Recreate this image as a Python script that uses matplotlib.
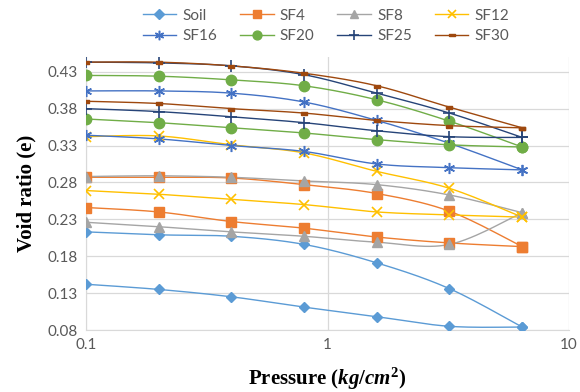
import numpy as np
import matplotlib
matplotlib.use("Agg")
import matplotlib.pyplot as plt
from matplotlib.lines import Line2D

pressure = [0.1, 0.2, 0.4, 0.8, 1.6, 3.2, 6.4]
series_names = ["Soil", "SF4", "SF8", "SF12", "SF16", "SF20", "SF25", "SF30"]

soil_load = [0.213, 0.209, 0.207, 0.196, 0.171, 0.136, 0.084]
soil_unload = [0.142, 0.135, 0.125, 0.111, 0.098, 0.085, 0.084]
sf4_load = [0.287, 0.287, 0.286, 0.277, 0.265, 0.241, 0.193]
sf4_unload = [0.246, 0.240, 0.227, 0.218, 0.206, 0.198, 0.193]
sf8_load = [0.288, 0.289, 0.287, 0.282, 0.277, 0.263, 0.239]
sf8_unload = [0.226, 0.220, 0.213, 0.207, 0.199, 0.196, 0.239]
sf12_load = [0.342, 0.343, 0.331, 0.320, 0.295, 0.272, 0.233]
sf12_unload = [0.269, 0.264, 0.257, 0.250, 0.240, 0.236, 0.233]
sf16_load = [0.404, 0.404, 0.401, 0.389, 0.364, 0.333, 0.297]
sf16_unload = [0.344, 0.339, 0.330, 0.322, 0.305, 0.300, 0.297]
sf20_load = [0.425, 0.424, 0.419, 0.411, 0.392, 0.363, 0.328]
sf20_unload = [0.366, 0.361, 0.354, 0.347, 0.338, 0.331, 0.328]
sf25_load = [0.443, 0.442, 0.438, 0.426, 0.401, 0.374, 0.341]
sf25_unload = [0.380, 0.376, 0.369, 0.361, 0.350, 0.342, 0.341]
sf30_load = [0.443, 0.443, 0.438, 0.428, 0.411, 0.382, 0.354]
sf30_unload = [0.390, 0.387, 0.380, 0.374, 0.364, 0.357, 0.354]

y_ticks = [0.08, 0.13, 0.18, 0.23, 0.28, 0.33, 0.38, 0.43]

loads = [soil_load, sf4_load, sf8_load, sf12_load, sf16_load, sf20_load, sf25_load, sf30_load]
unloads = [soil_unload, sf4_unload, sf8_unload, sf12_unload, sf16_unload, sf20_unload, sf25_unload, sf30_unload]

colors = ["#5B9BD5", "#ED7D31", "#A5A5A5", "#FFC000", "#4472C4", "#70AD47", "#264478", "#9E480E"]
dash_marker = [(-1, -0.45), (1, -0.45), (1, 0.45), (-1, 0.45), (-1, -0.45)]
markers = ["D", "s", "^", "x", (6, 2, 0), "o", "+", dash_marker]
msizes = [5.5, 7, 7.5, 7, 8, 7.5, 9, 4.8]
mew = [1, 1, 1, 1.2, 1.1, 1, 1.2, 1]


def smooth(xs, ys, n=30):
    lx = np.log10(np.asarray(xs, float))
    y = np.asarray(ys, float)
    P = np.column_stack([lx, y])
    P = np.vstack([P[0], P, P[-1]])
    out = []
    for i in range(1, len(P) - 2):
        p0, p1, p2, p3 = P[i - 1], P[i], P[i + 1], P[i + 2]
        t = np.linspace(0, 1, n, endpoint=False)[:, None]
        c = 0.5 * ((2 * p1) + (-p0 + p2) * t + (2 * p0 - 5 * p1 + 4 * p2 - p3) * t ** 2
                   + (-p0 + 3 * p1 - 3 * p2 + p3) * t ** 3)
        out.append(c)
    out.append(P[-2][None, :])
    out = np.vstack(out)
    return 10 ** out[:, 0], out[:, 1]


plt.rcParams["font.family"] = ["Lato", "DejaVu Sans"]
plt.rcParams["mathtext.fontset"] = "custom"
plt.rcParams["mathtext.it"] = "Liberation Serif:italic:bold"
plt.rcParams["mathtext.rm"] = "Liberation Serif:bold"
plt.rcParams["mathtext.bf"] = "Liberation Serif:bold"

fig = plt.figure(figsize=(5.8, 3.92), dpi=100)
ax = fig.add_axes([86 / 580, 1 - 330 / 392, (569 - 86) / 580, (330 - 57) / 392])

handles = []
for i in range(len(series_names)):
    for ys in (loads[i], unloads[i]):
        sx, sy = smooth(pressure, ys)
        ax.plot(sx, sy, color=colors[i], lw=1.0, zorder=3)
        ax.plot(pressure, ys, linestyle="none", marker=markers[i], ms=msizes[i],
                color=colors[i], mec=colors[i], mew=mew[i], zorder=4)
    handles.append(Line2D([], [], color=colors[i], lw=1.0, marker=markers[i],
                          ms=msizes[i] * 0.85, mec=colors[i], mew=mew[i]))

ax.set_xscale("log")
ax.set_xlim(0.1, 10)
ax.set_ylim(0.08, 0.45)
ax.set_yticks(y_ticks)
ax.set_yticklabels([f"{v:.2f}" for v in y_ticks])
ax.set_xticks([0.1, 1, 10])
ax.set_xticklabels(["0.1", "1", "10"])
ax.xaxis.set_minor_locator(matplotlib.ticker.NullLocator())
ax.grid(True, color="#D9D9D9", lw=0.9, zorder=0)
for s in ["top", "right"]:
    ax.spines[s].set_visible(False)
for s in ["left", "bottom"]:
    ax.spines[s].set_color("#D9D9D9")
ax.tick_params(length=0, labelsize=11, labelcolor="#595959", pad=6)

ax.set_ylabel("Void ratio (e)", fontfamily="Liberation Serif", fontweight="bold",
              fontsize=15, labelpad=8)
ax.set_xlabel(r"Pressure ($\mathit{kg/cm}^{\mathrm{2}}$)", fontfamily="Liberation Serif",
              fontweight="bold", fontsize=15, labelpad=10)

# legend filled row-wise (4 columns, 2 rows)
order = [0, 4, 1, 5, 2, 6, 3, 7]
fig.legend([handles[k] for k in order], [series_names[k] for k in order], ncol=4,
           loc="center", bbox_to_anchor=(326 / 580, 1 - 26 / 392),
           frameon=False, fontsize=11, handlelength=2.2, columnspacing=1.5,
           handletextpad=0.4, labelspacing=0.45, labelcolor="#595959")

fig.savefig("out.png", dpi=100)
